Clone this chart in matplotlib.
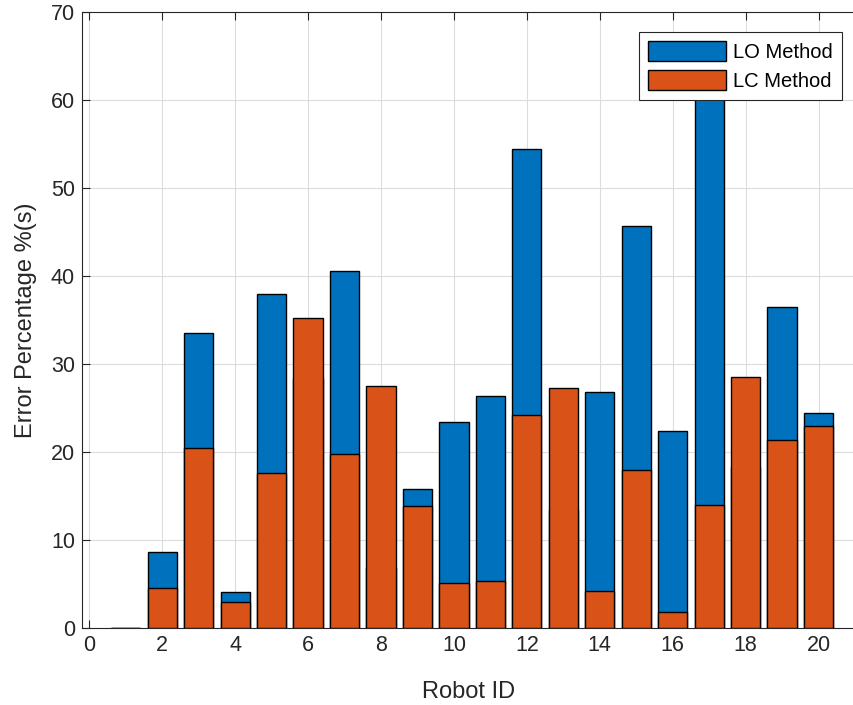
import matplotlib
matplotlib.use("Agg")
import matplotlib.pyplot as plt
import numpy as np

robot_ids = np.arange(1, 21)
lo_method = [0, 8.6, 33.5, 4.1, 37.9, 28.4, 40.6, 6.8, 15.8, 23.4,
             26.4, 54.4, 13.4, 26.8, 45.7, 22.4, 64.0, 18.3, 36.5, 24.4]
lc_method = [0, 4.5, 20.5, 2.9, 17.6, 35.2, 19.8, 27.5, 13.9, 5.1,
             5.3, 24.2, 27.3, 4.2, 18.0, 1.8, 14.0, 28.5, 21.4, 22.9]

plt.rcParams['font.family'] = ['Liberation Sans', 'DejaVu Sans']

fig = plt.figure(figsize=(8.54, 7.05), dpi=100)
# axes run off the right edge of the figure, as in the reference
ax = fig.add_axes([82 / 854, 77 / 705, 773 / 854, 616 / 705])

ax.bar(robot_ids, lo_method, width=0.8, color='#0072BD', edgecolor='black',
       linewidth=1, label='LO Method', zorder=2)
ax.bar(robot_ids, lc_method, width=0.8, color='#D95319', edgecolor='black',
       linewidth=1, label='LC Method', zorder=3)

ax.set_xlim(-0.2, 21)
ax.set_ylim(0, 70)
ax.set_xticks(np.arange(0, 21, 2))
ax.set_yticks(np.arange(0, 71, 10))
ax.grid(True, color='#dcdcdc', linewidth=0.8, zorder=0)
ax.set_axisbelow(True)
ax.tick_params(direction='in', top=True, right=False, labelsize=15.5,
               length=6, width=0.8, colors='#262626', pad=5)
for s in ax.spines.values():
    s.set_color('#262626')
    s.set_linewidth(0.8)

ax.set_xlabel('Robot ID', fontsize=17, color='#262626', labelpad=18)
ax.set_ylabel('Error Percentage %(s)', fontsize=17, color='#262626', labelpad=10)

leg = ax.legend(loc='upper right', fontsize=14.5, fancybox=False,
                edgecolor='#262626', framealpha=1, handlelength=3.9,
                handleheight=1.15, borderaxespad=0, borderpad=0.45,
                handletextpad=0.35, labelspacing=0.4,
                bbox_to_anchor=(842 / 854, 673 / 705),
                bbox_transform=fig.transFigure)
leg.get_frame().set_linewidth(0.8)

fig.savefig('out.png', dpi=100)
